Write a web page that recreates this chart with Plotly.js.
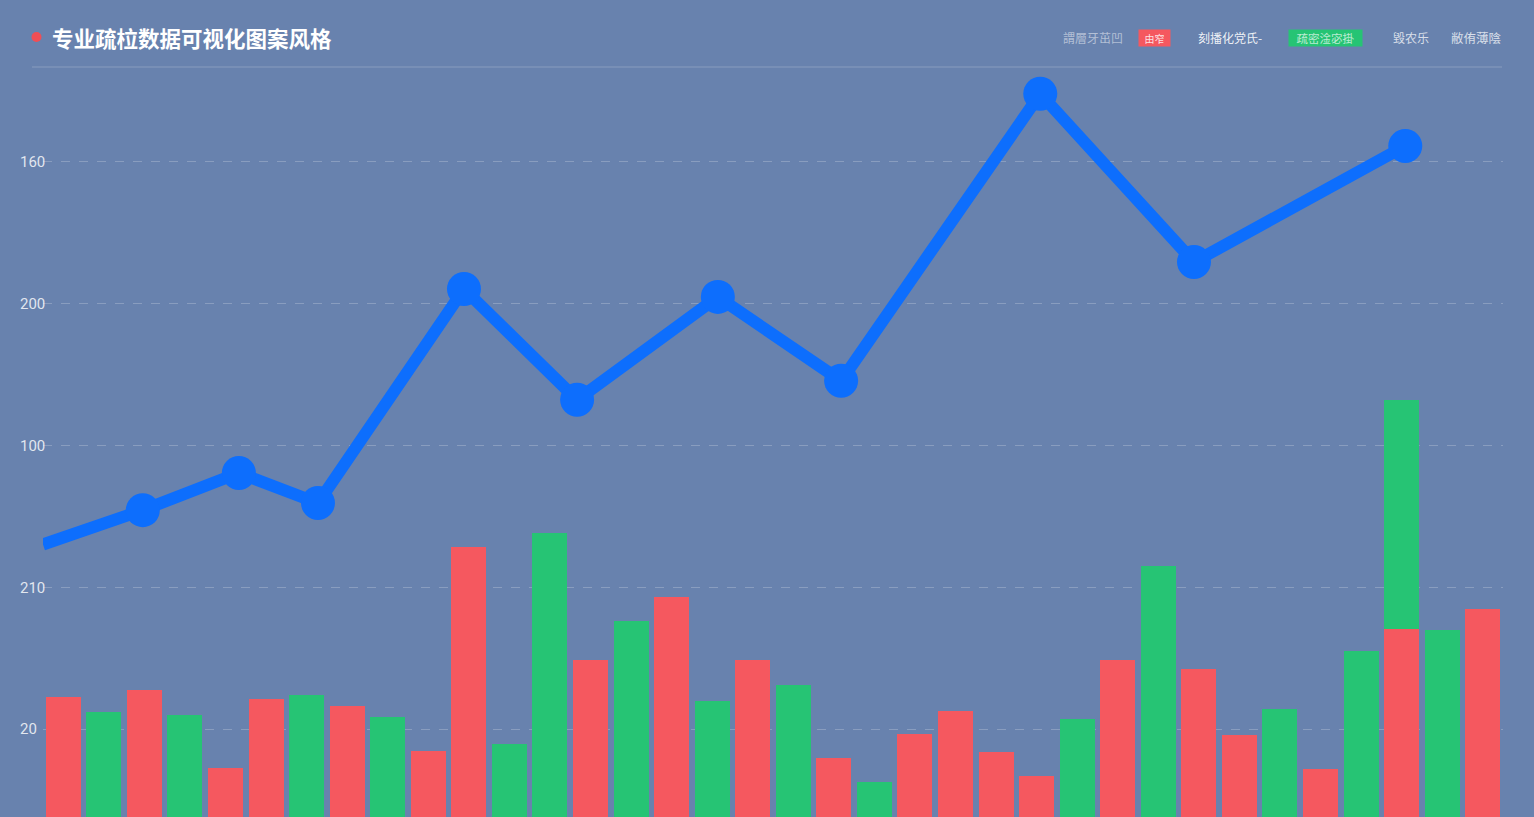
<!DOCTYPE html>
<html>
<head>
<meta charset="utf-8">
<script src="https://cdn.plot.ly/plotly-3.0.1.min.js"></script>
<style>
  html, body { margin: 0; padding: 0; background: #6882AE; overflow: hidden; }
  #chart { width: 1534px; height: 817px; }
</style>
</head>
<body>
<div id="chart"></div>
<script>
// ---- data ----
const categories = [0,1,2,3,4,5,6,7,8,9,10,11,12,13,14,15,16,17,18,19,20,21,22,23,24,25,26,27,28,29,30,31,32,33,34,35];
const redValues   = [61.3,null,63.8,null,36.2,60.6,null,58.1,null,42.2,114.2,null,null,74.3,null,96.6,null,74.3,null,39.8,null,48.2,56.4,41.9,33.4,null,74.3,null,71.1,47.9,null,35.9,null,85.3,null,92.3];
const greenValues = [null,56.0,null,54.9,null,null,62.0,null,54.2,null,null,44.7,119.2,null,88.1,null,59.9,null,65.5,null,31.3,null,null,null,null,53.5,null,107.5,null,null,57.1,null,77.5,80.8,84.9,null];
const lineX = [-0.5, 1.96, 4.33, 6.28, 9.88, 12.67, 16.14, 19.18, 24.09, 27.88, 33.09];
const lineY = [115.1, 127.2, 140.3, 129.7, 205.2, 166.1, 202.4, 172.8, 274.0, 214.7, 255.6];
const tickValues = [50, 100, 150, 200, 250];
const tickLabels = ["20", "210", "100", "200", "160"];
const titleText = "专业疏柆数据可视化图案风格";
const legendTexts = ["謂層牙茁凹", "由窄", "刻播化党氏-", "疏密淦宓掛", "毀农乐", "敝侑薄陰"];

// ---- layout helpers (pixel -> paper) ----
const W = 1534, H = 817;
const M = {l: 17, r: 31, t: 70, b: 0};
const PW = W - M.l - M.r, PH = H - M.t - M.b;
const px = x => (x - M.l) / PW;
const py = y => 1 - (y - M.t) / PH;

const RED = '#F5585F', GREEN = '#26C474', BLUE = '#0D6EFD';

const traces = [
  {type: 'bar', x: categories, y: redValues, marker: {color: RED, line: {width: 0}}, name: 'red'},
  {type: 'bar', x: categories, y: greenValues, marker: {color: GREEN, line: {width: 0}}, name: 'green'},
  {type: 'scatter', mode: 'lines', x: lineX, y: lineY,
   line: {color: BLUE, width: 12}, cliponaxis: true, name: 'line'},
  {type: 'scatter', mode: 'markers', x: lineX.slice(1), y: lineY.slice(1),
   marker: {color: BLUE, size: 34, symbol: 'circle', opacity: 1, line: {width: 0}},
   cliponaxis: false, name: 'points'},
  {type: 'scatter', mode: 'markers', x: [0], y: [100], yaxis: 'y2', marker: {size: 0, opacity: 0}, hoverinfo: 'skip'}
];

const cjk = '"Noto Sans CJK SC", "Noto Sans", sans-serif';
const annotations = [
  {xref: 'paper', yref: 'paper', x: px(50), y: py(38), xanchor: 'left', yanchor: 'middle',
   text: '<b>' + titleText + '</b>', showarrow: false,
   font: {family: cjk, size: 21.5, color: '#FFFFFF'}},
  {xref: 'paper', yref: 'paper', x: px(1061), y: py(38), xanchor: 'left', yanchor: 'middle',
   text: legendTexts[0], showarrow: false, font: {family: cjk, size: 12, color: 'rgba(255,255,255,0.5)'}},
  {xref: 'paper', yref: 'paper', x: px(1154.5), y: py(38), xanchor: 'center', yanchor: 'middle',
   text: legendTexts[1], showarrow: false, bgcolor: RED, width: 31, height: 16, borderpad: 0,
   font: {family: cjk, size: 10, color: 'rgba(255,255,255,0.85)'}},
  {xref: 'paper', yref: 'paper', x: px(1196), y: py(38), xanchor: 'left', yanchor: 'middle',
   text: legendTexts[2], showarrow: false, font: {family: cjk, size: 12, color: 'rgba(255,255,255,0.9)'}},
  {xref: 'paper', yref: 'paper', x: px(1325.5), y: py(38), xanchor: 'center', yanchor: 'middle',
   text: legendTexts[3], showarrow: false, bgcolor: GREEN, width: 73, height: 16, borderpad: 0,
   font: {family: cjk, size: 11.5, color: 'rgba(255,255,255,0.7)'}},
  {xref: 'paper', yref: 'paper', x: px(1391), y: py(38), xanchor: 'left', yanchor: 'middle',
   text: legendTexts[4], showarrow: false, font: {family: cjk, size: 12, color: 'rgba(255,255,255,0.75)'}},
  {xref: 'paper', yref: 'paper', x: px(1449), y: py(38), xanchor: 'left', yanchor: 'middle',
   text: legendTexts[5], showarrow: false, font: {family: cjk, size: 12.5, color: 'rgba(255,255,255,0.75)'}}
];

const shapes = [
  {type: 'circle', xref: 'paper', yref: 'paper', x0: px(31.5), x1: px(41.5), y0: py(32), y1: py(42),
   fillcolor: '#F04E55', line: {width: 0}},
  {type: 'line', xref: 'paper', yref: 'paper', x0: px(32), x1: px(1502), y0: py(67), y1: py(67),
   line: {color: 'rgba(255,255,255,0.22)', width: 1}}
];

const layout = {
  width: W, height: H,
  margin: M,
  paper_bgcolor: '#6882AE',
  plot_bgcolor: 'rgba(0,0,0,0)',
  barmode: 'stack',
  bargap: 0.136,
  showlegend: false,
  xaxis: {domain: [px(43), 1], range: [-0.5, 35.5], showgrid: false, zeroline: false, showticklabels: false, ticks: '', showline: false, fixedrange: true},
  yaxis: {range: [19, 282.4], tickvals: tickValues, showticklabels: false,
          showgrid: true, gridcolor: 'rgba(255,255,255,0.22)', griddash: 'dash', gridwidth: 1,
          zeroline: false, showline: false, ticks: ''},
  yaxis2: {overlaying: 'y', anchor: 'free', position: 0, side: 'left',
           range: [19, 282.4], tickvals: tickValues, ticktext: tickLabels,
           ticklabelposition: 'inside', ticklabelstandoff: -1,
           showgrid: false, zeroline: false, showline: false, ticks: '',
           tickfont: {family: 'Roboto, "Noto Sans", sans-serif', size: 15, color: 'rgba(255,255,255,0.82)'}},
  annotations: annotations,
  shapes: shapes
};

Plotly.newPlot('chart', traces, layout, {displayModeBar: false, staticPlot: true});
</script>
</body>
</html>
